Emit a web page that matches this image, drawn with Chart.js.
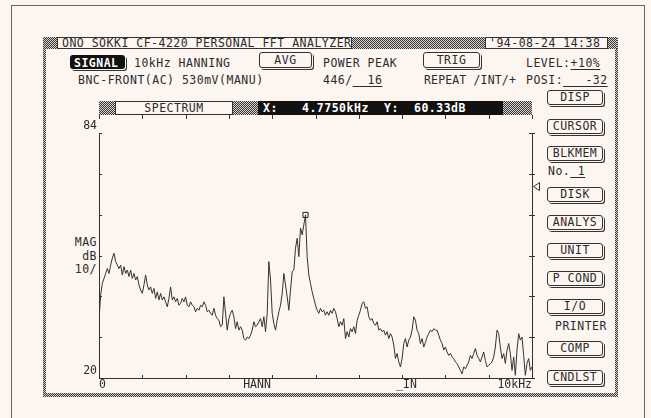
<!DOCTYPE html>
<html>
<head>
<meta charset="utf-8">
<script src="https://cdn.jsdelivr.net/npm/chart.js@4.4.0/dist/chart.umd.min.js"></script>
<style>
  body { margin: 0; background: #fdf5f0; }
  #page { position: relative; width: 651px; height: 418px; overflow: hidden; background: #fdf5f0; }
  .t { position: absolute; font: 11.5px "DejaVu Sans Mono", monospace; letter-spacing: .5px; line-height: 12px; color: #2b2b2b; white-space: pre; }
  .dith { position: absolute; background: repeating-conic-gradient(#3a3a3a 0 25%, #d4d0cc 0 50%) 0 0 / 2px 2px; }
  .box { position: absolute; background: #fdf5f0; border: 1px solid #333; box-sizing: border-box; }
  .blk { position: absolute; background: #111; }
  .btn { position: absolute; height: 15px; border: 1px solid #333; border-radius: 3px; box-sizing: border-box;
         box-shadow: 1px 1px 0 0 #fdf5f0, 2px 2px 0 0 #333; background: #fdf5f0;
         font: 11.5px "DejaVu Sans Mono", monospace; letter-spacing: .5px; line-height: 13px; text-align: center; color: #2b2b2b; }
  .w { color: #fff; font-weight: bold; }
  u { text-decoration: underline; text-underline-offset: 2px; }
  canvas { position: absolute; left: 0; top: 0; }
</style>
</head>
<body>
<div id="page">
  <!-- outer frame (bottom edge falls outside the picture) -->
  <div style="position:absolute;left:11px;top:5px;width:634px;height:420px;border:1px solid #666;box-sizing:border-box"></div>

  <!-- screen frame -->
  <div class="dith" style="left:43px;top:37px;width:3px;height:358px"></div>
  <div class="dith" style="left:615px;top:37px;width:3px;height:358px"></div>
  <div class="dith" style="left:43px;top:393px;width:575px;height:4px"></div>

  <!-- title bar -->
  <div class="dith" style="left:43px;top:37px;width:14px;height:12px"></div>
  <div class="box" style="left:57px;top:37px;width:295px;height:12px"></div>
  <div class="t" style="left:62px;top:37px">ONO SOKKI CF-4220 PERSONAL FFT ANALYZER</div>
  <div class="dith" style="left:352px;top:37px;width:133px;height:12px"></div>
  <div class="box" style="left:485px;top:37px;width:123px;height:12px"></div>
  <div class="t" style="left:489px;top:37px">'94-08-24 14:38</div>
  <div class="dith" style="left:608px;top:37px;width:9px;height:12px"></div>

  <!-- settings rows -->
  <div class="blk" style="left:70px;top:55px;width:55px;height:14px;border-radius:3px;box-shadow:1px 1px 0 0 #fdf5f0,2px 2px 0 0 #333"></div>
  <div class="t w" style="left:74px;top:57px">SIGNAL</div>
  <div class="t" style="left:134px;top:57px">10kHz HANNING</div>
  <div class="t" style="left:78px;top:74px">BNC-FRONT(AC) 530mV(MANU)</div>

  <div class="btn" style="left:259px;top:52px;width:53px;height:16px;line-height:14px">AVG</div>
  <div class="t" style="left:323px;top:57px">POWER PEAK</div>
  <div class="t" style="left:323px;top:74px">446/<u>  16</u></div>

  <div class="btn" style="left:423px;top:52px;width:57px;height:16px;line-height:14px">TRIG</div>
  <div class="t" style="left:424px;top:74px;letter-spacing:.15px">REPEAT /INT/+</div>

  <div class="t" style="left:526px;top:57px">LEVEL:<u>+10%</u></div>
  <div class="t" style="left:526px;top:74px">POSI:<u>   -32</u></div>

  <!-- spectrum header -->
  <div class="dith" style="left:99px;top:101px;width:16px;height:14px"></div>
  <div class="box" style="left:115px;top:101px;width:118px;height:14px"></div>
  <div class="t" style="left:115px;top:102px;width:118px;text-align:center">SPECTRUM</div>
  <div class="dith" style="left:233px;top:101px;width:25px;height:14px"></div>
  <div class="blk" style="left:258px;top:101px;width:245px;height:14px"></div>
  <div class="t w" style="left:263px;top:102px">X:</div>
  <div class="t w" style="left:302px;top:102px" id="curX"></div>
  <div class="t w" style="left:384px;top:102px">Y:</div>
  <div class="t w" style="left:414px;top:102px" id="curY"></div>
  <div class="dith" style="left:503px;top:101px;width:29px;height:14px"></div>

  <!-- y axis caption -->
  <div class="t" style="left:60px;top:236px;width:37px;text-align:right">MAG</div>
  <div class="t" style="left:60px;top:250px;width:37px;text-align:right">dB</div>
  <div class="t" style="left:60px;top:263px;width:37px;text-align:right">10/</div>

  <!-- soft keys -->
  <div class="btn" style="left:547px;top:90px;width:56px">DISP</div>
  <div class="btn" style="left:547px;top:119px;width:56px">CURSOR</div>
  <div class="btn" style="left:547px;top:146px;width:56px">BLKMEM</div>
  <div class="t" style="left:548px;top:165px">No.<u> 1</u></div>
  <div class="btn" style="left:547px;top:187px;width:56px">DISK</div>
  <div class="btn" style="left:547px;top:215px;width:56px">ANALYS</div>
  <div class="btn" style="left:547px;top:243px;width:56px">UNIT</div>
  <div class="btn" style="left:547px;top:271px;width:56px">P COND</div>
  <div class="btn" style="left:547px;top:299px;width:56px">I/O</div>
  <div class="t" style="left:555px;top:320px">PRINTER</div>
  <div class="btn" style="left:547px;top:341px;width:56px">COMP</div>
  <div class="btn" style="left:547px;top:370px;width:56px">CNDLST</div>

  <canvas id="fft" width="651" height="418"></canvas>
</div>

<script>
// spectrum, 0 - 10 kHz, dB
var freqMaxHz = 10000;
var magDb = [
  35.1, 41.7, 44.7, 46.0, 47.3, 48.6, 47.3, 49.5, 51.3, 52.6,
  50.4, 49.5, 48.6, 49.5, 46.9, 49.1, 47.3, 48.2, 46.5, 48.2,
  46.0, 47.3, 45.6, 46.5, 44.3, 43.0, 42.1, 44.3, 46.9, 44.3,
  43.0, 43.8, 42.1, 43.4, 40.8, 42.5, 40.4, 42.1, 40.4, 41.2,
  39.9, 38.6, 40.8, 43.8, 40.4, 41.2, 39.9, 40.8, 39.0, 39.5,
  40.8, 39.9, 41.2, 39.0, 38.6, 39.9, 39.0, 38.6, 37.3, 38.2,
  37.7, 39.0, 38.6, 39.9, 39.0, 37.3, 37.7, 36.9, 36.4, 38.2,
  36.4, 35.5, 35.1, 33.4, 33.8, 41.2, 36.9, 32.5, 35.5, 36.9,
  37.7, 36.0, 32.9, 34.7, 32.5, 33.4, 32.5, 30.3, 29.9, 30.7,
  30.3, 31.2, 32.5, 34.7, 33.4, 33.8, 34.7, 35.5, 33.4, 36.0,
  32.1, 36.9, 50.4, 45.6, 36.9, 34.2, 32.5, 35.1, 37.3, 39.0,
  42.1, 47.3, 44.3, 41.2, 37.7, 43.0, 47.8, 48.2, 53.9, 56.5,
  51.7, 59.2, 57.4, 60.0, 62.6, 51.7, 46.9, 44.7, 42.5, 40.8,
  39.0, 37.7, 36.9, 38.2, 37.3, 37.7, 36.4, 37.3, 36.4, 37.7,
  36.9, 38.2, 37.3, 35.5, 33.4, 34.7, 33.8, 35.5, 30.3, 32.1,
  30.7, 32.9, 32.1, 33.4, 31.6, 35.1, 36.4, 37.7, 39.5, 39.9,
  38.2, 38.6, 36.0, 35.1, 35.5, 34.2, 33.8, 34.7, 32.5, 32.9,
  32.1, 32.5, 31.2, 32.1, 30.3, 31.6, 30.7, 28.6, 25.1, 26.4,
  24.2, 22.9, 25.1, 29.0, 30.3, 28.1, 29.9, 30.7, 32.5, 36.0,
  35.1, 32.5, 31.6, 29.0, 30.3, 28.1, 29.3, 30.7, 31.6, 32.5,
  32.1, 32.9, 32.5, 32.5, 31.2, 29.9, 29.0, 27.3, 28.1, 26.8,
  25.9, 26.4, 25.5, 25.1, 24.2, 23.8, 22.9, 22.0, 21.1, 22.9,
  22.4, 23.3, 24.2, 25.9, 25.1, 26.4, 27.7, 25.9, 25.1, 24.2,
  25.5, 26.8, 24.6, 22.9, 23.3, 23.8, 24.2, 25.5, 28.1, 32.5,
  31.6, 28.1, 25.1, 26.4, 23.8, 27.3, 29.0, 26.4, 22.0, 25.5,
  20.7, 27.3, 31.6, 29.9, 30.7, 25.9, 20.7, 23.8, 25.1, 22.0,
  22.9
];
var yTickLabels = [20, 84];
var xLabelValues = [0, 3650, 7100, 10000];
var xLabelText = ['0', 'HANN', '_IN', '10kHz'];
var cursorText = { x: '4.7750kHz', y: '60.33dB' };
var levelDb = 70;

document.getElementById('curX').textContent = cursorText.x;
document.getElementById('curY').textContent = cursorText.y;

var binHz = freqMaxHz / (magDb.length - 1);
var points = magDb.map(function (v, i) { return { x: i * binHz, y: v }; });

// cursor sits on the highest line
var peakIdx = 0;
magDb.forEach(function (v, i) { if (v > magDb[peakIdx]) peakIdx = i; });

var ink = '#2b2b2b';
var monoFont = { family: '"DejaVu Sans Mono", monospace', size: 11.5 };

// frame, tick marks and level marker
var frameMarks = {
    id: 'frameMarks',
    afterDraw: function (chart) {
        var ctx = chart.ctx, a = chart.chartArea;
        var xs = chart.scales.x, ys = chart.scales.y;
        ctx.save();
        ctx.strokeStyle = '#333';
        ctx.lineWidth = 1;
        ctx.beginPath();
        ctx.moveTo(a.right + 0.5, a.top);
        ctx.lineTo(a.right + 0.5, a.bottom);
        for (var f = 0; f <= freqMaxHz; f += 1000) {
            var px = Math.round(xs.getPixelForValue(f)) + 0.5;
            ctx.moveTo(px, a.bottom);
            ctx.lineTo(px, a.bottom - 3);
            ctx.moveTo(px, 115);
            ctx.lineTo(px, 119);
        }
        for (var k = 0; k <= 6; k++) {
            var py = Math.round(ys.getPixelForValue(20 + k * 64 / 6)) + 0.5;
            ctx.moveTo(a.left, py);
            ctx.lineTo(a.left + 3, py);
            ctx.moveTo(a.right - 3, py);
            ctx.lineTo(a.right + 3, py);
        }
        ctx.stroke();
        var ly = ys.getPixelForValue(levelDb);
        ctx.beginPath();
        ctx.moveTo(a.right + 1.5, ly);
        ctx.lineTo(a.right + 7.5, ly - 4);
        ctx.lineTo(a.right + 7.5, ly + 4);
        ctx.closePath();
        ctx.stroke();
        ctx.restore();
    }
};

var ctx1 = document.getElementById('fft').getContext('2d');
var fftChart = new Chart(ctx1, {
    type: 'line',
    data: {
        datasets: [{
            label: 'SPECTRUM',
            data: points,
            borderColor: '#333',
            borderWidth: 1,
            pointRadius: 0,
            tension: 0,
            fill: false
        }, {
            label: 'cursor',
            data: [{ x: peakIdx * binHz, y: magDb[peakIdx] }],
            showLine: false,
            pointStyle: 'rect',
            pointRadius: 3.6,
            borderColor: '#222',
            borderWidth: 1,
            backgroundColor: 'rgba(0,0,0,0)'
        }]
    },
    options: {
        responsive: false,
        devicePixelRatio: 1,
        animation: false,
        layout: { padding: { left: 0, top: 133, right: 119, bottom: 0 } },
        scales: {
            x: {
                type: 'linear',
                min: 0,
                max: freqMaxHz,
                grid: { display: false, drawTicks: false },
                border: { display: true, color: '#333', width: 1 },
                afterBuildTicks: function (s) { s.ticks = xLabelValues.map(function (v) { return { value: v }; }); },
                afterFit: function (s) { s.height = 40; },
                ticks: {
                    align: 'inner',
                    autoSkip: false,
                    maxRotation: 0,
                    padding: 0,
                    color: ink,
                    font: monoFont,
                    callback: function (v, i) { return xLabelText[i]; }
                }
            },
            y: {
                type: 'linear',
                min: 20,
                max: 84,
                grid: { display: false, drawTicks: false },
                border: { display: true, color: '#333', width: 1 },
                afterBuildTicks: function (s) { s.ticks = yTickLabels.map(function (v) { return { value: v }; }); },
                afterFit: function (s) { s.width = 99; },
                ticks: { padding: 2, labelOffset: -7, color: ink, font: monoFont }
            }
        },
        plugins: {
            legend: { display: false },
            tooltip: { enabled: false }
        }
    },
    plugins: [frameMarks]
});
</script>
</body>
</html>
